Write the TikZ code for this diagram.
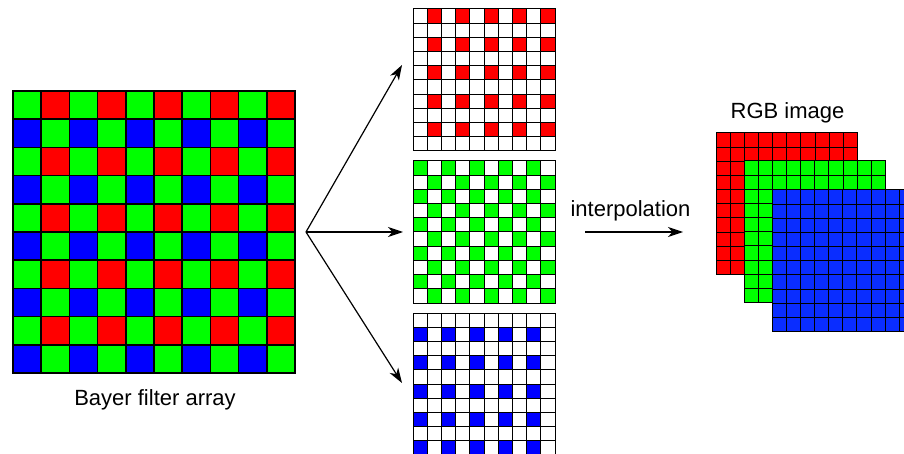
\documentclass[tikz,border=0pt]{standalone}
\usepackage{fontspec}
\setmainfont{Liberation Sans}
\usetikzlibrary{arrows.meta}
\definecolor{pr}{RGB}{255,0,0}
\definecolor{pg}{RGB}{0,255,0}
\definecolor{pb}{RGB}{0,0,255}
\definecolor{lb}{RGB}{10,45,255}
\begin{document}
\begin{tikzpicture}[x=0.5pt,y=-0.5pt,
  bigcell/.style={draw=black,line width=0.75pt},
  smallcell/.style={draw=black,line width=0.5pt},
  gridbox/.style={inner sep=0pt,outer sep=0pt,anchor=north west},
  label/.style={font=\fontsize{11}{13}\selectfont,anchor=base,inner sep=0pt},
  flow/.style={line width=0.6pt,-{Stealth[length=7.5pt,width=5pt,inset=2.2pt]}}]
\useasboundingbox (0,0) rectangle (904,454);
\clip (0,0) rectangle (904,454);

% Bayer mosaic: G R / B G pattern
\node[gridbox,minimum width=141pt,minimum height=141pt] (bayer) at (13,91) {};
\foreach \i in {0,...,9} \foreach \j in {0,...,9} {
  \pgfmathtruncatemacro\k{mod(\i+\j,2)==0 ? 0 : (mod(\j,2)==0 ? 1 : 2)}
  \ifcase\k \def\c{pg}\or \def\c{pr}\or \def\c{pb}\fi
  \draw[bigcell,fill=\c] (13+\i*28.2,91+\j*28.2) rectangle ++(28.2,28.2);
}
\node[label] (bayertxt) at (155,405) {Bayer filter array};

% separated colour planes
\node[gridbox,minimum width=71pt,minimum height=71pt] (red) at (413,9) {};
\node[gridbox,minimum width=71pt,minimum height=71pt] (green) at (413,161) {};
\node[gridbox,minimum width=71pt,minimum height=71pt] (blue) at (413,313) {};
\foreach \i in {0,...,9} \foreach \j in {0,...,9} {
  \pgfmathtruncatemacro\r{(mod(\j,2)==0 && mod(\i,2)==1) ? 1 : 0}
  \pgfmathtruncatemacro\g{mod(\i+\j,2)==0 ? 1 : 0}
  \pgfmathtruncatemacro\b{(mod(\j,2)==1 && mod(\i,2)==0) ? 1 : 0}
  \ifnum\r=1 \def\cr{pr}\else\def\cr{white}\fi
  \ifnum\g=1 \def\cg{pg}\else\def\cg{white}\fi
  \ifnum\b=1 \def\cb{pb}\else\def\cb{white}\fi
  \draw[smallcell,fill=\cr] (413+\i*14.2,9+\j*14.2) rectangle ++(14.2,14.2);
  \draw[smallcell,fill=\cg] (413+\i*14.2,161+\j*14.2) rectangle ++(14.2,14.2);
  \draw[smallcell,fill=\cb] (413+\i*14.2,313+\j*14.2) rectangle ++(14.2,14.2);
}

% splitting arrows
\coordinate (split) at (306,232);
\draw[flow] (split) -- ([shift={(-11,-15)}]red.west);
\draw[flow] (split) -- ([shift={(-10,0)}]green.west);
\draw[flow] (split) -- ([shift={(-11,-1)}]blue.west);

% interpolation step
\coordinate (ia) at (585,232);
\coordinate (ib) at (683,232);
\draw[flow] (ia) -- (ib);
\node[label] (interp) at (630.5,217) {interpolation};

% reconstructed RGB image, stacked planes
\foreach \x/\y/\c in {716/133/pr, 744/161/pg, 772/190/lb} {
  \foreach \i in {0,...,9} \foreach \j in {0,...,9} {
    \draw[smallcell,fill=\c] (\x+\i*14.15,\y+\j*14.15) rectangle ++(14.15,14.15);
  }
}
\node[gridbox,minimum width=70.75pt,minimum height=70.75pt] (rgb) at (716,133) {};
\node[label] (rgbtxt) at (787.5,119) {RGB image};
\end{tikzpicture}
\end{document}
